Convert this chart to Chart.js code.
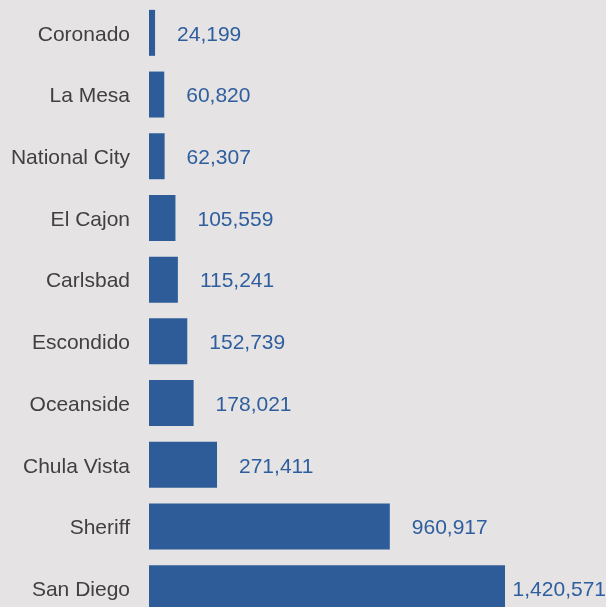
<!DOCTYPE html>
<html>
<head>
<meta charset="utf-8">
<script src="https://cdn.jsdelivr.net/npm/chart.js@4"></script>
<style>
    html, body { margin: 0; padding: 0; background: #e5e3e3; overflow: hidden; }
    canvas { display: block; }
</style>
</head>
<body>
<canvas id="myChart1" width="606" height="620"></canvas>
<script>
const agencies = ['Coronado', 'La Mesa', 'National City', 'El Cajon', 'Carlsbad',
    'Escondido', 'Oceanside', 'Chula Vista', 'Sheriff', 'San Diego'];
const stops = [24199, 60820, 62307, 105559, 115241, 152739, 178021, 271411, 960917, 1420571];

const barColor = 'rgba(45, 92, 152, 1)';
const labelColor = 'rgba(46, 94, 158, 1)';

// draws the value next to each bar
const valueLabels = {
    id: 'valueLabels',
    afterDatasetsDraw(chart) {
        const ctx = chart.ctx;
        const meta = chart.getDatasetMeta(0);
        ctx.save();
        ctx.font = '21px "Liberation Sans", Arial, sans-serif';
        ctx.fillStyle = labelColor;
        ctx.textBaseline = 'middle';
        ctx.textAlign = 'left';
        meta.data.forEach((bar, i) => {
            const text = stops[i].toLocaleString('en-US');
            let x = bar.x + 22;
            const w = ctx.measureText(text).width;
            if (x + w > chart.width) {
                x = chart.width - w;
            }
            ctx.fillText(text, x, bar.y + 2);
        });
        ctx.restore();
    }
};

const ctx = document.getElementById('myChart1').getContext('2d');
new Chart(ctx, {
    type: 'bar',
    data: {
        labels: agencies,
        datasets: [{
            data: stops,
            backgroundColor: barColor,
            borderWidth: 0,
            categoryPercentage: 1,
            barPercentage: 0.745
        }]
    },
    options: {
        indexAxis: 'y',
        responsive: false,
        animation: false,
        layout: { padding: { top: 2, bottom: 1, left: 0, right: 0 } },
        plugins: {
            legend: { display: false },
            tooltip: { enabled: false }
        },
        scales: {
            x: {
                display: false,
                min: 0,
                max: 1823600
            },
            y: {
                afterFit(scale) {
                    scale.width = 149;
                    scale.paddingTop = 0;
                    scale.paddingBottom = 0;
                },
                border: { display: false },
                grid: { display: false, drawTicks: false },
                ticks: {
                    padding: 19,
                    labelOffset: 2,
                    color: '#404040',
                    font: { family: '"Liberation Sans", Arial, sans-serif', size: 21 }
                }
            }
        }
    },
    plugins: [valueLabels]
});
</script>
</body>
</html>
